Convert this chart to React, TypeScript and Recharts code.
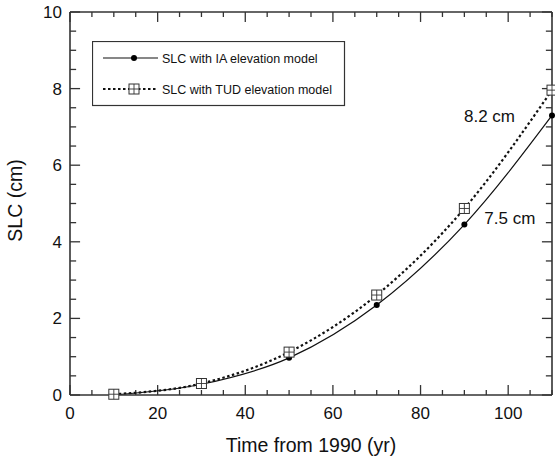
import React from 'react';
import { ComposedChart, Line, XAxis, YAxis, LabelList, ReferenceLine } from 'recharts';

const years = [10, 30, 50, 70, 90, 110];
const slcIA = [0.0, 0.28, 0.97, 2.35, 4.45, 7.3];
const slcTUD = [0.02, 0.3, 1.12, 2.61, 4.87, 7.96];
const xTicks = [0, 5, 10, 15, 20, 25, 30, 35, 40, 45, 50, 55, 60, 65, 70, 75, 80, 85, 90, 95, 100, 105, 110];
const yTicks = [0, 0.5, 1, 1.5, 2, 2.5, 3, 3.5, 4, 4.5, 5, 5.5, 6, 6.5, 7, 7.5, 8, 8.5, 9, 9.5, 10];
const seriesNames = ['SLC with IA elevation model', 'SLC with TUD elevation model'];
const endLabels = ['7.5 cm', '8.2 cm'];

const data = years.map((t, i) => ({ t, ia: slcIA[i], tud: slcTUD[i] }));

const X_MAX = 110;
const Y_MAX = 10;
// tick mark lengths expressed in axis units (major, minor)
const X_TICK_LEN = [0.26, 0.13];
const Y_TICK_LEN = [2.3, 1.4];

const FONT = '"Liberation Sans", Arial, Helvetica, sans-serif';
const AX = '#333';

const BottomTick = (p: any) => {
  const v = p.payload.value;
  const major = v % 20 === 0;
  const x = Number(p.x);
  const y = Number(p.y);
  return (
    <g>
      {major && v <= 100 ? (
        <text x={x} y={y + 24} textAnchor="middle" fontSize={17} fill="#111" fontFamily={FONT}>{v}</text>
      ) : null}
    </g>
  );
};
const LeftTick = (p: any) => {
  const v = p.payload.value;
  const major = v % 2 === 0;
  const x = Number(p.x);
  const y = Number(p.y);
  return (
    <g>
      {major ? (
        <text x={x - 8} y={y + 6} textAnchor="end" fontSize={17} fill="#111" fontFamily={FONT}>{v}</text>
      ) : null}
    </g>
  );
};

const Dot = (p: any) => <circle key={`d${p.index}`} cx={p.cx} cy={p.cy} r={3} fill="#000" />;
const SquareDot = (p: any) => (
  <g key={`s${p.index}`}>
    <rect x={p.cx - 5} y={p.cy - 5} width={10} height={10} fill="#fff" stroke={AX} strokeWidth={1} />
    <line x1={p.cx} x2={p.cx} y1={p.cy - 5} y2={p.cy + 5} stroke={AX} strokeWidth={0.9} />
    <line x1={p.cx - 5} x2={p.cx + 5} y1={p.cy} y2={p.cy} stroke={AX} strokeWidth={0.9} />
  </g>
);

const makeEndLabel = (text: string, idx: number, dx: number, dy: number) => (p: any) => {
  if (p.index !== idx) return null;
  return (
    <text x={Number(p.x) + dx} y={Number(p.y) + dy} textAnchor="start" fontSize={17} fill="#111" fontFamily={FONT}>{text}</text>
  );
};

const xTitle = (lp: any) => {
  const vb = lp.viewBox;
  return (
    <text x={vb.x + vb.width / 2} y={vb.y + 57} textAnchor="middle" fontSize={19.5} fill="#111" fontFamily={FONT}>
      Time from 1990 (yr)
    </text>
  );
};
const yTitle = (lp: any) => {
  const vb = lp.viewBox;
  const cx = vb.x + 22;
  const cy = vb.y + vb.height / 2 - 3;
  return (
    <text x={cx} y={cy} transform={`rotate(-90 ${cx} ${cy})`} textAnchor="middle" fontSize={19.5} fill="#111" fontFamily={FONT}>
      SLC (cm)
    </text>
  );
};

const tickSegs: { key: string; seg: { x: number; y: number }[] }[] = [];
xTicks.forEach((v) => {
  const len = v % 20 === 0 ? X_TICK_LEN[0] : X_TICK_LEN[1];
  tickSegs.push({ key: `xb${v}`, seg: [{ x: v, y: 0 }, { x: v, y: len }] });
  tickSegs.push({ key: `xt${v}`, seg: [{ x: v, y: Y_MAX }, { x: v, y: Y_MAX - len }] });
});
yTicks.forEach((v) => {
  const len = v % 2 === 0 ? Y_TICK_LEN[0] : Y_TICK_LEN[1];
  tickSegs.push({ key: `yl${v}`, seg: [{ x: 0, y: v }, { x: len, y: v }] });
  tickSegs.push({ key: `yr${v}`, seg: [{ x: X_MAX, y: v }, { x: X_MAX - len, y: v }] });
});

export default function App() {
  return (
    <div style={{ position: 'absolute', left: 0, top: 0, width: 555, height: 461, background: '#fff', fontFamily: FONT }}>
      <ComposedChart width={555} height={461} data={data} margin={{ top: 11, right: 2, left: 0, bottom: 0 }}>
        <XAxis
          xAxisId="b"
          dataKey="t"
          type="number"
          domain={[0, X_MAX]}
          ticks={xTicks}
          interval={0}
          height={66}
          tickSize={0}
          tickMargin={0}
          tickLine={false}
          axisLine={{ stroke: AX, strokeWidth: 1.6 }}
          tick={<BottomTick />}
          label={{ content: xTitle }}
        />
        <XAxis
          xAxisId="t"
          orientation="top"
          dataKey="t"
          type="number"
          domain={[0, X_MAX]}
          ticks={xTicks}
          interval={0}
          height={1}
          tickSize={0}
          tickMargin={0}
          tickLine={false}
          tick={false}
          axisLine={{ stroke: AX, strokeWidth: 1.6 }}
        />
        <YAxis
          yAxisId="l"
          type="number"
          domain={[0, Y_MAX]}
          ticks={yTicks}
          interval={0}
          width={70}
          tickSize={0}
          tickMargin={0}
          tickLine={false}
          axisLine={{ stroke: AX, strokeWidth: 1.6 }}
          tick={<LeftTick />}
          label={{ content: yTitle }}
        />
        <YAxis
          yAxisId="r"
          orientation="right"
          type="number"
          domain={[0, Y_MAX]}
          ticks={yTicks}
          interval={0}
          width={1}
          tickSize={0}
          tickMargin={0}
          tickLine={false}
          tick={false}
          axisLine={{ stroke: AX, strokeWidth: 1.6 }}
        />
        {tickSegs.map((t) => (
          <ReferenceLine
            key={t.key}
            xAxisId="b"
            yAxisId="l"
            segment={t.seg}
            stroke={AX}
            strokeWidth={1.3}
            ifOverflow="visible"
          />
        ))}
        <Line
          xAxisId="b"
          yAxisId="l"
          dataKey="ia"
          name={seriesNames[0]}
          type="monotone"
          stroke="#111"
          strokeWidth={1.2}
          dot={Dot}
          isAnimationActive={false}
        >
          <LabelList dataKey="ia" content={makeEndLabel(endLabels[0], 4, 20, -1)} />
        </Line>
        <Line
          xAxisId="b"
          yAxisId="l"
          dataKey="tud"
          name={seriesNames[1]}
          type="monotone"
          stroke="#111"
          strokeWidth={2.2}
          strokeDasharray="2.5 2.5"
          dot={SquareDot}
          isAnimationActive={false}
        >
          <LabelList dataKey="tud" content={makeEndLabel(endLabels[1], 5, -88, 32)} />
        </Line>
      </ComposedChart>
      <svg style={{ position: 'absolute', left: 92, top: 41 }} width={254} height={66}>
        <rect x={0.5} y={0.5} width={252} height={64} fill="#fff" stroke={AX} strokeWidth={1.2} />
        <line x1={11} x2={66} y1={17} y2={17} stroke="#111" strokeWidth={1.2} />
        <circle cx={42} cy={17} r={3} fill="#000" />
        <text x={70} y={22} fontSize={12.5} fill="#111" fontFamily={FONT}>{seriesNames[0]}</text>
        <line x1={11} x2={66} y1={48} y2={48} stroke="#111" strokeWidth={2} strokeDasharray="2.5 2.5" />
        <rect x={37} y={43} width={10} height={10} fill="#fff" stroke={AX} strokeWidth={1} />
        <line x1={42} x2={42} y1={43} y2={53} stroke={AX} strokeWidth={0.9} />
        <line x1={37} x2={47} y1={48} y2={48} stroke={AX} strokeWidth={0.9} />
        <text x={70} y={53} fontSize={12.5} fill="#111" fontFamily={FONT}>{seriesNames[1]}</text>
      </svg>
    </div>
  );
}
